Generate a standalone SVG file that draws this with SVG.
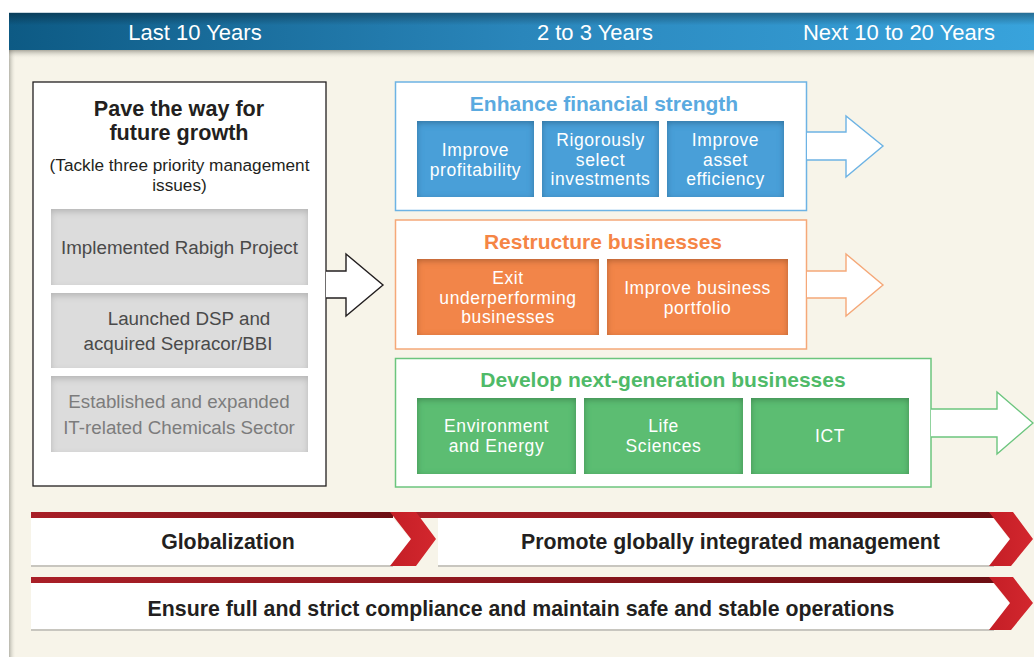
<svg xmlns="http://www.w3.org/2000/svg" width="1034" height="657" viewBox="0 0 1034 657">
<defs>
<linearGradient id="hdr" x1="0" y1="0" x2="1" y2="0">
<stop offset="0" stop-color="#0d5a84"/><stop offset="0.5" stop-color="#2a86bb"/><stop offset="1" stop-color="#38a3dc"/>
</linearGradient>
<linearGradient id="hdrTop" x1="0" y1="0" x2="0" y2="1">
<stop offset="0" stop-color="#000" stop-opacity="0.35"/><stop offset="0.35" stop-color="#000" stop-opacity="0"/><stop offset="1" stop-color="#000" stop-opacity="0"/>
</linearGradient>
<linearGradient id="hdrShadow" x1="0" y1="0" x2="0" y2="1">
<stop offset="0" stop-color="#6b6a60" stop-opacity="0.55"/><stop offset="1" stop-color="#f7f4e9" stop-opacity="0"/>
</linearGradient>
<linearGradient id="leftShadow" x1="0" y1="0" x2="1" y2="0">
<stop offset="0" stop-color="#8a8a80" stop-opacity="0.6"/><stop offset="1" stop-color="#f7f4e9" stop-opacity="0"/>
</linearGradient>
<linearGradient id="stripe" x1="0" y1="0" x2="1" y2="0">
<stop offset="0" stop-color="#a91f27"/><stop offset="1" stop-color="#6d0e13"/>
</linearGradient>
<linearGradient id="chev" x1="0" y1="0" x2="1" y2="0">
<stop offset="0" stop-color="#c41e26"/><stop offset="1" stop-color="#d3272e"/>
</linearGradient>
<filter id="inset" x="-10%" y="-15%" width="120%" height="130%">
<feFlood flood-color="#000" flood-opacity="0.5" result="c"/>
<feComposite in="c" in2="SourceAlpha" operator="out" result="inv"/>
<feGaussianBlur in="inv" stdDeviation="3" result="blur"/>
<feOffset dx="0" dy="2" result="off"/>
<feComposite in="off" in2="SourceAlpha" operator="in" result="shadow"/>
<feMerge><feMergeNode in="SourceGraphic"/><feMergeNode in="shadow"/></feMerge>
</filter>
<filter id="insetLight" x="-10%" y="-15%" width="120%" height="130%">
<feFlood flood-color="#000" flood-opacity="0.35" result="c"/>
<feComposite in="c" in2="SourceAlpha" operator="out" result="inv"/>
<feGaussianBlur in="inv" stdDeviation="3" result="blur"/>
<feOffset dx="0" dy="3" result="off"/>
<feComposite in="off" in2="SourceAlpha" operator="in" result="shadow"/>
<feMerge><feMergeNode in="SourceGraphic"/><feMergeNode in="shadow"/></feMerge>
</filter>
</defs>
<style>
text{font-family:"Liberation Sans",Arial,sans-serif}
.hdrt{font-size:22px;fill:#fff;text-anchor:middle}
.ttl{font-size:21px;font-weight:bold;text-anchor:middle}
.lt{font-size:21.6px;font-weight:bold;text-anchor:middle;fill:#231f20}
.sub{font-size:17.5px;letter-spacing:0.6px;fill:#fff;text-anchor:middle}
.gray{fill:#dcdcdc;filter:url(#insetLight)}
.grayt{font-size:18.8px;fill:#4a4a4a;text-anchor:middle}
.bar{font-size:21.3px;font-weight:bold;fill:#231f20;text-anchor:middle}
.arrow{fill:#fff;stroke-width:1.4;stroke-linejoin:miter}
</style>
<rect x="0" y="0" width="1034" height="657" fill="#fff"/>
<rect x="9" y="50" width="1025" height="607" fill="#f7f4e9"/>
<rect x="9" y="50" width="7" height="607" fill="url(#leftShadow)"/>
<rect x="9" y="50" width="1025" height="9" fill="url(#hdrShadow)"/>

<g id="header">
<rect x="9" y="12" width="1025" height="38" fill="url(#hdr)"/>
<rect x="9" y="12" width="1025" height="38" fill="url(#hdrTop)"/>
<rect x="9" y="12" width="1025" height="1" fill="#c9d6de"/>
<text class="hdrt" x="195" y="39.5">Last 10 Years</text>
<text class="hdrt" x="595" y="39.5">2 to 3 Years</text>
<text class="hdrt" x="899" y="39.5">Next 10 to 20 Years</text>
</g>

<g id="pave">
<rect x="33" y="82" width="293" height="404" fill="#fff" stroke="#231f20" stroke-width="1.3"/>
<text class="lt" x="179" y="116">Pave the way for</text>
<text class="lt" x="179" y="140">future growth</text>
<text x="179.5" y="171" font-size="17.2" fill="#231f20" text-anchor="middle">(Tackle three priority management</text>
<text x="179.5" y="191" font-size="17.2" fill="#231f20" text-anchor="middle">issues)</text>
</g>
<g id="rabigh">
<rect class="gray" x="51" y="209" width="257" height="76"/>
<text class="grayt" x="179.5" y="254">Implemented Rabigh Project</text>
</g>
<g id="dsp">
<rect class="gray" x="51" y="293" width="257" height="75"/>
<text class="grayt" x="189" y="325">Launched DSP and</text>
<text class="grayt" x="178" y="350">acquired Sepracor/BBI</text>
</g>
<g id="itchem">
<rect class="gray" x="51" y="376" width="257" height="76"/>
<text class="grayt" x="179" y="408" style="fill:#7c7c7c">Established and expanded</text>
<text class="grayt" x="179" y="434" style="fill:#7c7c7c">IT-related Chemicals Sector</text>
</g>

<g id="financial">
<rect x="395.5" y="82" width="411" height="128.5" fill="#fff" stroke="#6db3e4" stroke-width="1.5"/>
<text class="ttl" x="604" y="111" fill="#5aaae0">Enhance financial strength</text>
</g>
<g id="profitability">
<rect x="417" y="121" width="117" height="76" fill="#4a9fd8" filter="url(#inset)"/>
<text class="sub" x="475.5" y="156">Improve</text>
<text class="sub" x="475.5" y="175.5">profitability</text>
</g>
<g id="investments">
<rect x="542" y="121" width="117" height="76" fill="#4a9fd8" filter="url(#inset)"/>
<text class="sub" x="600.5" y="146">Rigorously</text>
<text class="sub" x="600.5" y="165.5">select</text>
<text class="sub" x="600.5" y="185">investments</text>
</g>
<g id="asset">
<rect x="667" y="121" width="117" height="76" fill="#4a9fd8" filter="url(#inset)"/>
<text class="sub" x="725.5" y="146">Improve</text>
<text class="sub" x="725.5" y="165.5">asset</text>
<text class="sub" x="725.5" y="185">efficiency</text>
</g>

<g id="restructure">
<rect x="395.5" y="220" width="411" height="129" fill="#fff" stroke="#f5a878" stroke-width="1.5"/>
<text class="ttl" x="603" y="249" fill="#f58545">Restructure businesses</text>
</g>
<g id="exit">
<rect x="417" y="259" width="182" height="76" fill="#f2854a" filter="url(#inset)"/>
<text class="sub" x="508" y="284">Exit</text>
<text class="sub" x="508" y="303.5">underperforming</text>
<text class="sub" x="508" y="323">businesses</text>
</g>
<g id="portfolio">
<rect x="607" y="259" width="181" height="76" fill="#f2854a" filter="url(#inset)"/>
<text class="sub" x="697.5" y="294">Improve business</text>
<text class="sub" x="697.5" y="313.5">portfolio</text>
</g>

<g id="nextgen">
<rect x="395.5" y="358.5" width="535.5" height="128.5" fill="#fff" stroke="#6cc57e" stroke-width="1.5"/>
<text class="ttl" x="663" y="387" fill="#4fba68">Develop next-generation businesses</text>
</g>
<g id="environment">
<rect x="417" y="398" width="159" height="76" fill="#5bbd72" filter="url(#inset)"/>
<text class="sub" x="496.5" y="432">Environment</text>
<text class="sub" x="496.5" y="451.5">and Energy</text>
</g>
<g id="life">
<rect x="584" y="398" width="159" height="76" fill="#5bbd72" filter="url(#inset)"/>
<text class="sub" x="663.5" y="432">Life</text>
<text class="sub" x="663.5" y="451.5">Sciences</text>
</g>
<g id="ict">
<rect x="751" y="398" width="158" height="76" fill="#5bbd72" filter="url(#inset)"/>
<text class="sub" x="830" y="442">ICT</text>
</g>

<g id="connectors">
<polyline class="arrow" stroke="#231f20" points="326,271 346,271 346,254 383,285 346,316 346,298 326,298"/>
<polyline class="arrow" stroke="#6db3e4" points="807,132 846,132 846,116 883,146 846,177 846,160 807,160"/>
<polyline class="arrow" stroke="#f5a878" points="807,271 846,271 846,254 883,285 846,316 846,298 807,298"/>
<polyline class="arrow" stroke="#6cc57e" points="931,409 997,409 997,392 1033,423 997,454 997,437 931,437"/>
</g>

<g id="globalization">
<rect x="31" y="565" width="362" height="2" fill="#c8c6bf"/>
<rect x="31" y="512" width="362" height="6" fill="url(#stripe)"/>
<polygon points="31,518 393,518 411,540 393,565 31,565" fill="#fff"/>
<text class="bar" x="228" y="549">Globalization</text>
</g>
<g id="promote">
<rect x="438" y="565" width="556" height="2" fill="#c8c6bf"/>
<rect x="415" y="512" width="580" height="6" fill="url(#stripe)"/>
<polygon points="438,518 993,518 1010,540 993,565 438,565" fill="#fff"/>
<polygon points="390,512 416,512 436,539 416,566 390,566 411,539" fill="url(#chev)"/>
<polygon points="989,512 1013,512 1033,539 1011,566 989,566 1010,539" fill="url(#chev)"/>
<text class="bar" x="730.5" y="549">Promote globally integrated management</text>
</g>
<g id="compliance">
<rect x="31" y="629" width="963" height="2" fill="#c8c6bf"/>
<rect x="31" y="577" width="964" height="6" fill="url(#stripe)"/>
<polygon points="31,583 993,583 1010,604 993,629 31,629" fill="#fff"/>
<polygon points="989,577 1013,577 1033,603 1011,630 989,630 1010,603" fill="url(#chev)"/>
<text class="bar" x="521" y="616">Ensure full and strict compliance and maintain safe and stable operations</text>
</g>
</svg>
